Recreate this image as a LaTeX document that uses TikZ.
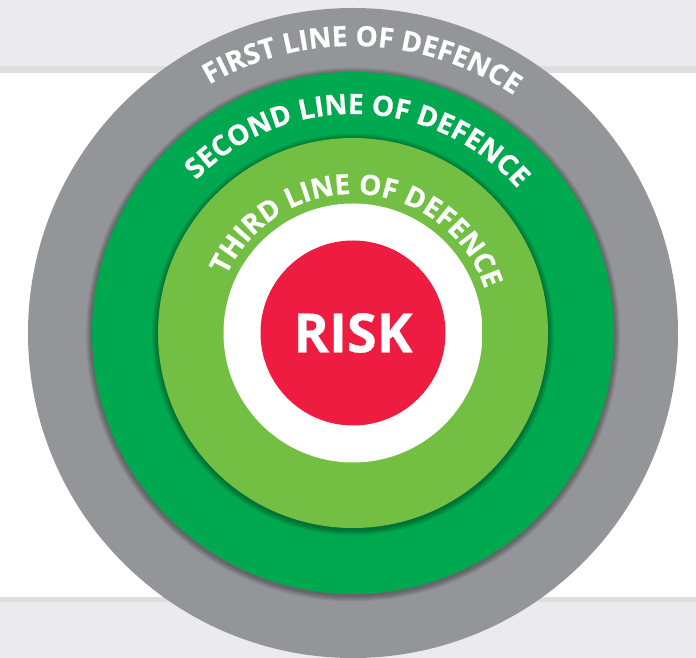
\documentclass[tikz,border=0pt]{standalone}
\usepackage{fontspec}
\setmainfont{Open Sans}
\newfontfamily\ringface{Open Sans}[BoldFeatures={FakeBold=0.6}]
\usetikzlibrary{decorations.text}

\definecolor{bandgrey}{HTML}{EBEBED}
\definecolor{bandline}{HTML}{DEDEE0}
\definecolor{firstgrey}{HTML}{939598}
\definecolor{secondgreen}{HTML}{00A94F}
\definecolor{thirdgreen}{HTML}{72BF44}
\definecolor{riskred}{HTML}{ED1C40}

\newcommand\ringfont{\ringface\fontsize{28}{28}\selectfont\bfseries\color{white}}

\pgfdeclareradialshading{insetshade}{\pgfpoint{0bp}{0bp}}{color(0bp)=(white); color(45.5bp)=(white); color(47.5bp)=(black!8); color(49bp)=(black!20); color(50bp)=(black!36); color(100bp)=(black!36)}

\begin{document}
\begin{tikzpicture}[x=1pt,y=1pt]
	\tikzset{ring/.style={circle, inner sep=0pt, minimum size=#1}}
	\tikzset{ringtext/.style={decorate, decoration={text along path, text align=center, text={|\ringfont|#1}}}}
	\useasboundingbox (0,0) rectangle (696,658);
	% background bands
	\fill[bandgrey] (0,0) rectangle (696,56);
	\fill[bandline] (0,56) rectangle (696,61);
	\fill[bandline] (0,585) rectangle (696,592);
	\fill[bandgrey] (0,592) rectangle (696,658);
	\coordinate (c) at (353,325);
	% rings, outside in
	\node[ring=650pt, fill=firstgrey] (first) at (c) {};
	\foreach \d in {1,...,6} \fill[black, opacity=0.06] ([yshift=-1.5pt]c) circle (261+\d);
	\node[ring=522pt, fill=secondgreen] (second) at (c) {};
	\foreach \d in {1,...,6} \fill[black, opacity=0.06] ([yshift=-1.5pt]c) circle (195+\d);
	\node[ring=390pt, fill=thirdgreen] (third) at (c) {};
	\node[ring=259pt, shade, shading=insetshade] (inset) at (c) {};
	\node[ring=185pt, fill=riskred, text=white, font=\ringface\fontsize{54}{54}\selectfont\bfseries] (risk) at (c) {RISK};
	% curved labels, centred on their arcs
	\path[ringtext={FIRST LINE OF DEFENCE}, shift={(c)}] (173:287) arc[start angle=173, end angle=3, radius=287];
	\path[ringtext={SECOND LINE OF DEFENCE}, shift={(c)}] (173.5:219) arc[start angle=173.5, end angle=3.5, radius=219];
	\path[ringtext={THIRD LINE OF DEFENCE}, shift={(c)}] (172:139) arc[start angle=172, end angle=2, radius=139];
\end{tikzpicture}
\end{document}
